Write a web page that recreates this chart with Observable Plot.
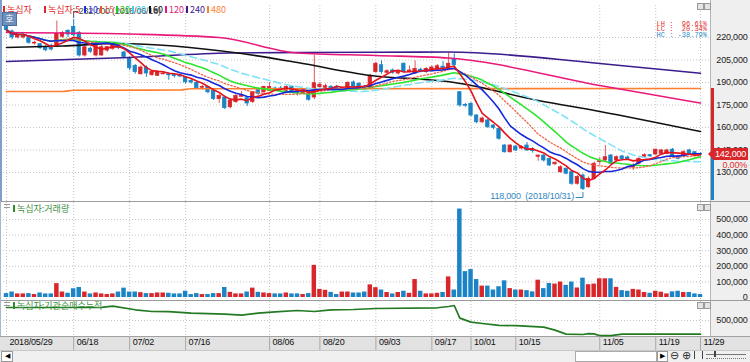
<!DOCTYPE html>
<html><head><meta charset="utf-8">
<script src="https://cdn.jsdelivr.net/npm/d3@7"></script>
<script src="https://cdn.jsdelivr.net/npm/@observablehq/plot@0.6"></script>
<style>
body{margin:0;background:#fff;}
#wrap{position:relative;width:750px;height:362px;overflow:hidden;background:#fff;}
#wrap svg{position:absolute;left:0;}
.o{position:absolute;white-space:pre;}
.num{font-family:"Liberation Sans",Arial,sans-serif;letter-spacing:-0.2px;}
.kr{font-family:"Noto Sans CJK KR","Noto Sans",sans-serif;}
</style></head><body><div id="wrap"></div>
<script>
// ---------------- data ----------------
const dates = ["05/29","05/30","05/31",
"06/01","06/04","06/05","06/07","06/08","06/11","06/12","06/14","06/15","06/18","06/19","06/20","06/21","06/22","06/25","06/26","06/27","06/28","06/29",
"07/02","07/03","07/04","07/05","07/06","07/09","07/10","07/11","07/12","07/13","07/16","07/17","07/18","07/19","07/20","07/23","07/24","07/25","07/26","07/27","07/30","07/31",
"08/01","08/02","08/03","08/06","08/07","08/08","08/09","08/10","08/13","08/14","08/16","08/17","08/20","08/21","08/22","08/23","08/24","08/27","08/28","08/29","08/30","08/31",
"09/03","09/04","09/05","09/06","09/07","09/10","09/11","09/12","09/13","09/14","09/17","09/18","09/19","09/20","09/21","09/27","09/28",
"10/01","10/02","10/04","10/05","10/08","10/10","10/11","10/12","10/15","10/16","10/17","10/18","10/19","10/22","10/23","10/24","10/25","10/26","10/29","10/30","10/31",
"11/01","11/02","11/05","11/06","11/07","11/08","11/09","11/12","11/13","11/14","11/15","11/16","11/19","11/20","11/21","11/22","11/23","11/26","11/27","11/28","11/29"];
// prices in thousands of won
const open = [227,224,220,220,219.5,216,215.5,213.5,214.5,214,
220.5,224.5,227,223,208,212.5,208,208,211.3,212.5,
215,210,206,201,195.5,200,195,194.5,195.5,195.5,
195,194.8,193.5,191,189.8,186.5,187,184.5,179,180,
173.5,177,180.5,179.5,177,185,183.5,184.5,186,186,
184.5,187,184,182.5,182.5,180,187,186.5,187,187,
185.5,186.2,190,189,187,186,197,201.5,196.5,198,
196,202.5,197,196,198.5,197,198,199,200.5,199,
205.5,183.5,175,175.8,168,163.5,164.7,161.3,159,148,
143.5,147.3,146,148,145.5,140.5,141.3,139,135.5,130.2,
132.5,130.2,122.5,128,120.2,125.8,137,138,141.3,138,
140.7,140,133.3,135.8,140.5,141.5,142,142.5,142.5,145.2,
140.7,141.3,144.7,143.5,142.5];
const high = [228,225,223,222.5,220,217.5,216,214.5,215.5,231,
224,225,232,224,214.5,213.5,215.5,215,214,216.5,
216,211,207,202,201,201,197.5,198,197,196.5,
195.5,195.5,194,192,190.5,188,187.5,185,182,181,
179,182,184,180,184,186,187.5,190,187,187.5,
188,188,185,185.5,183.5,208,190,189,188,188,
186.5,190.5,191,190,188,195.5,203.5,204.5,198.5,199,
198,203,201,204.5,199.5,200,201,202,204,210,
209,184,176,176.5,168.5,167,165.5,162,159.5,148.5,
148.5,148,148,150,146.5,141.5,142,139.5,137,134.5,
133,131,128,129,127,137,140,148,142,141,
141.5,141,136,140,142.5,142,145.5,145.5,145.5,146,
141.5,144.5,145.5,144,143];
const low = [223.5,218.5,219,219,215.5,215,212,210.5,211,213.5,
219.5,220,220.5,207,207,209.5,207,207.5,210,211.5,
212,206,198,195.5,195,193.5,194,194,195,191.5,
193,193.5,189,189,185.5,185,182.5,178,176,172,
172.5,176,180,174,176,181.5,182.5,184,184,184.5,
184,183.5,181,182,177.5,178.5,185,185.5,184.5,185,
184.5,185.5,186,186,184.5,185.5,196,195.5,195.5,195.5,
195,196.5,196.5,195.5,196.5,196,197,198,198,198,
200.5,173.5,173.5,167,162.5,162.5,159.5,158.5,151.5,143,
143,144,145,144,143,137.5,137,134,134.5,129.5,
128.5,121.5,121.5,118,119.5,125,135,137,135,137,
138,138,131.3,135,140,140,141.5,142,142,140,
138.5,141,142,141.5,141];
const close = [225,220,221.5,221.5,216.5,216.5,213,211.5,212,222.5,
223,222,221.5,208,213.5,210.5,214.5,213.5,213.5,215.8,
213,207,199.5,197,200,196,197,197,196,194.8,
194.3,194,190.2,190,186.2,187,183.5,179,181,173,
178,181,181.5,176,183.5,182.5,187,187,185,185.5,
187,184,183,184.5,178.5,189.5,188.5,187.5,186,186,
186.3,189.8,187,187,186.5,194.5,202.5,197,197.5,196.5,
197,197,198,199,197.5,199,200,200.8,199.5,202.5,
201.5,174.7,174.5,168,163.5,166,160.2,159.8,152.5,143.5,
148,144.7,147,144.7,144.3,141.3,138,134.7,136.5,133.5,
129.2,122.5,127,119,125.8,135.8,137.5,140.2,135.8,140.2,
139,139,134.7,139,141.5,140.8,145.2,144.7,144.7,140.7,
139.2,143.5,142.5,142,142];
// volume in thousands of shares
const volume = [25,35,23,23,25,19,29,23,23,89,
35,27,56,64,35,23,29,23,19,23,
35,60,35,35,31,25,25,29,29,27,
23,23,40,19,25,19,19,25,25,64,
33,23,23,35,60,33,29,25,23,23,
29,23,23,19,25,206,52,46,33,19,
35,35,29,29,35,81,63,48,32,23,
32,40,27,115,40,23,23,27,32,132,
48,567,166,179,115,73,73,48,69,107,
57,48,48,44,36,111,57,90,86,99,
78,99,61,124,82,86,120,120,120,65,
44,40,52,48,32,27,40,34,23,36,
40,32,32,23,19];
// long moving averages (day index, thousands of won)
const ma60Idx = [0,10,20,42,52,65,77,80,95,106,124];
const ma60Val = [213.3,214.3,216,209.3,203.3,194.7,191.3,190,178,170.7,157.3];
const ma120Idx = [0,22,38,52,66,79,106,124];
const ma120Val = [223.3,222.3,220,209.7,208,206.3,188,176.3];
const ma240Idx = [0,22,40,52,66,79,106,124];
const ma240Val = [204,206.7,209.7,210,210.2,210.3,202.7,196.2];
const ma480Idx = [0,10,12,31,33,124];
const ma480Val = [184,184,184.8,185,185.8,186];
// institutional net-buying cumulative (thousands of shares)
const instIdx = [0,17,19,23,26,29,33,39,42,45,48,52,55,58,62,66,77,79,80,81,83,85,88,91,96,98,100,103,104,105,106,108,110,124];
const instVal = [825,830,858,768,725,720,683,658,633,683,717,750,725,767,775,800,818,850,875,560,460,425,380,370,335,260,160,150,170,167,120,120,158,158];
// axis ticks
const priceTicks = [130000,145000,160000,175000,190000,205000,220000];
const volTicks = [0,100000,200000,300000,400000,500000];
const instTicks = [500000];
const dateTickIdx = [0,12,22,32,47,56,66,76,83,91,106,116,124];
const legendItems = [
  {label:"녹십자", color:"#e0262b", x:3},
  {label:"녹십자:5", color:"#e0262b", x:44},
  {label:"10", color:"#1a2fe0", x:84},
  {label:"15", color:"#f0553c", x:100},
  {label:"20", color:"#22cc22", x:116},
  {label:"30", color:"#3fd0f0", x:132},
  {label:"60", color:"#111111", x:149},
  {label:"120", color:"#e8197a", x:165},
  {label:"240", color:"#3d1c8e", x:186},
  {label:"480", color:"#ff7f30", x:207}
];

// ---------------- build ----------------
const K = 1000;
const rows = dates.map((d,i)=>({i, date:d, open:open[i]*K, high:high[i]*K, low:low[i]*K, close:close[i]*K, vol:volume[i]*K, up: close[i] >= open[i]}));
const upRows = rows.filter(d=>d.up), dnRows = rows.filter(d=>!d.up);
const mk = (idx,val,f=K) => idx.map((x,j)=>({x, v: val[j]*f}));
const fmt = d3.format(",");
const RED = "#d8262b", BLUE = "#1b84c6", REDW = "#e0585c", GRID = "#c4c4c4";
const NUM = '"Liberation Sans",Arial,sans-serif';
const FS = 9;
const W = 750;
const xScale = {type:"linear", domain:[0,124], range:[6,700], axis:null};
const mainYdom = [130000,220000], mainYrng = [172,37];
const yPix = d3.scaleLinear(mainYrng, mainYdom); // pixel -> value, same mapping as Plot y
const hi = d3.greatest(rows, d=>d.high), lo = d3.least(rows, d=>d.low);
const last = rows[rows.length-1], prev = rows[rows.length-2];
const grid = {stroke: GRID, strokeDasharray: "1,2"};
const svgStyle = {background: "transparent", fontFamily: NUM, fontSize: FS + "px", letterSpacing: "-0.2px", overflow: "visible"};
const shortMA = (k, stroke, extra={}) => Plot.lineY(rows, Plot.windowY({k, anchor:"end", reduce:"mean", strict:false}, {x:"i", y:"close", stroke, strokeWidth:1.6, ...extra}));
const longMA = (idx, val, stroke) => Plot.line(mk(idx,val), {x:"x", y:"v", stroke, strokeWidth:1.6, curve:"monotone-x"});

const main = Plot.plot({
  width: W, height: 201, marginLeft: 3, marginRight: 40, marginTop: 5, marginBottom: 0,
  x: xScale, y: {domain: mainYdom, range: mainYrng, axis: null},
  style: svgStyle,
  marks: [
    Plot.ruleX(dateTickIdx, {x: d=>d, ...grid}),
    Plot.ruleY(priceTicks, {y: d=>d, ...grid}),
    Plot.ruleX(upRows, {x:"i", y1:"low", y2:"high", stroke: REDW, strokeWidth: 1}),
    Plot.ruleX(dnRows, {x:"i", y1:"low", y2:"high", stroke: BLUE, strokeWidth: 1}),
    Plot.rect(upRows, {x1: d=>d.i-0.3, x2: d=>d.i+0.3, y1:"open", y2:"close", fill: RED, stroke: RED, strokeWidth: 0.8}),
    Plot.rect(dnRows, {x1: d=>d.i-0.3, x2: d=>d.i+0.3, y1:"open", y2:"close", fill: BLUE, stroke: BLUE, strokeWidth: 0.8}),
    longMA(ma480Idx, ma480Val, "#ff7f30"),
    longMA(ma240Idx, ma240Val, "#3d1c8e"),
    longMA(ma120Idx, ma120Val, "#e8197a"),
    longMA(ma60Idx, ma60Val, "#111111"),
    shortMA(30, "#7fe2f7", {strokeDasharray: "7,4"}),
    shortMA(20, "#2ee52e"),
    shortMA(15, "#f0654a", {strokeDasharray: "1.5,2", strokeWidth: 1.3}),
    shortMA(10, "#1428dc"),
    shortMA(5, "#e4131b"),
    Plot.line([{x: hi.i, v: yPix(17)}, {x: hi.i, v: yPix(11)}, {x: hi.i + 4/5.6, v: yPix(11)}], {x:"x", y:"v", stroke:"#555", strokeWidth: 1}),
    Plot.text([hi], {x:"i", y:"high", text: d=>`${fmt(d.high)} (2018/${d.date})`, textAnchor:"start", dx: 5, dy: -8, fill:"#4a4a4a", fontSize: FS, fontFamily: NUM}),
    Plot.line([{x: lo.i - 7/5.6, v: yPix(197)}, {x: lo.i, v: yPix(197)}, {x: lo.i, v: yPix(192)}], {x:"x", y:"v", stroke:"#2f87c0", strokeWidth: 1}),
    Plot.text([lo], {x:"i", y:"low", text: d=>`${fmt(d.low)}  (2018/${d.date})`, textAnchor:"end", dx: -9, dy: 6, fill:"#2f87c0", fontSize: FS, fontFamily: NUM}),
    Plot.text(priceTicks, {y: d=>d, frameAnchor:"right", dx: 37, textAnchor:"end", text: d=>fmt(d), fill:"#222", fontSize: FS, fontFamily: NUM})
  ]
});

const volPlot = Plot.plot({
  width: W, height: 99, marginLeft: 3, marginRight: 40, marginTop: 0, marginBottom: 0,
  x: xScale, y: {domain: [0,500000], range: [95,17], axis: null},
  style: svgStyle,
  marks: [
    Plot.ruleX(dateTickIdx, {x: d=>d, ...grid}),
    Plot.ruleY(volTicks.filter(v=>v>0), {y: d=>d, ...grid}),
    Plot.rectY(upRows, {x1: d=>d.i-0.4, x2: d=>d.i+0.4, y:"vol", fill: RED}),
    Plot.rectY(dnRows, {x1: d=>d.i-0.4, x2: d=>d.i+0.4, y:"vol", fill: BLUE}),
    Plot.text(volTicks, {y: d=>d, frameAnchor:"right", dx: 37, textAnchor:"end", text: d=>fmt(d), fill:"#222", fontSize: FS, fontFamily: NUM})
  ]
});

const instPlot = Plot.plot({
  width: W, height: 49, marginLeft: 3, marginRight: 40, marginTop: 0, marginBottom: 14,
  x: xScale, y: {domain: [100000, 975000], range: [35, 0], axis: null},
  style: svgStyle,
  marks: [
    Plot.ruleX(dateTickIdx, {x: d=>d, ...grid}),
    Plot.ruleY(instTicks, {y: d=>d, ...grid}),
    Plot.line(mk(instIdx, instVal), {x:"x", y:"v", stroke:"#237a23", strokeWidth: 1.7}),
    Plot.text(instTicks, {y: d=>d, frameAnchor:"right", dx: 37, textAnchor:"end", text: d=>fmt(d), fill:"#222", fontSize: FS, fontFamily: NUM}),
    Plot.ruleX(dateTickIdx.slice(1), {x: d=>d, insetTop: 35, insetBottom: -14, stroke: "#a8a8a8"}),
    Plot.text(dateTickIdx, {x: d=>d, frameAnchor:"bottom", dy: 8, dx: 3, textAnchor:"start", text: i => i === 0 ? "2018/" + dates[i] : dates[i], fill:"#111", fontSize: FS, fontFamily: NUM})
  ]
});

// ---------------- layout ----------------
const wrap = document.getElementById("wrap");
function box(css, html="", cls="o"){ const e=document.createElement("div"); e.className=cls; e.style.cssText=css; e.innerHTML=html; wrap.appendChild(e); return e; }
// backgrounds
box("left:710px;top:0;width:40px;height:336px;background:#efefef;border-left:1px solid #b4b4b4;");
box("left:0;top:336px;width:750px;height:14px;background:#e2e2e2;border-top:1px solid #a0a0a0;");
box("left:0;top:350px;width:750px;height:12px;background:#f0f0f0;border-top:1px solid #c8c8c8;");
box("left:0;top:201px;width:750px;height:0;border-top:1px solid #9c9c9c;");
box("left:0;top:300px;width:750px;height:0;border-top:1px solid #9c9c9c;");
box("left:0;top:0;width:2px;height:201px;background:#7c9fcc;");
box("left:0;top:201px;width:1px;height:135px;background:#a8b8cc;");
// plots
main.style.top = "0px"; wrap.appendChild(main);
volPlot.style.top = "202px"; wrap.appendChild(volPlot);
instPlot.style.top = "301px"; wrap.appendChild(instPlot);

// legend of main panel
for (const it of legendItems) {
  box(`left:${it.x}px;top:6px;width:2px;height:7px;background:${it.color};`);
  box(`left:${it.x+4}px;top:3px;line-height:13px;font-size:9px;color:${it.color};`, it.label, "o kr");
}
// 호 button
box("left:2px;top:12px;width:13px;height:12px;background:#6f8fbd;border:1px solid #4f6f9d;color:#fff;font-size:9px;line-height:12px;text-align:center;", "호", "o kr");
// LH / LC / HC
const pct = v => (v*100).toFixed(2) + "%";
const stats = [["LH", hi.high/lo.low-1, "#e03030"], ["LC", last.close/lo.low-1, "#e03030"], ["HC", last.close/hi.high-1, "#2a8ac8"]];
stats.forEach(([k,v,c],j)=>{
  const s = pct(v); const txt = k + " : " + " ".repeat(Math.max(0, 7 - s.length)) + s;
  box(`right:43px;top:${21.7+j*5.6}px;height:5.6px;line-height:5.6px;font-size:7px;color:${c};font-family:'Liberation Mono',monospace;`, txt);
});
// panel icons (top-right small boxes) and left panel handles
for (const t of [3, 204, 302]) {
  box(`left:697px;top:${t}px;width:5px;height:5px;background:#e4e4e4;border:1px solid #9a9a9a;`);
  box(`left:704px;top:${t}px;width:5px;height:5px;background:#e4e4e4;border:1px solid #9a9a9a;`);
}
for (const t of [204, 302]) box(`left:4px;top:${t}px;width:6px;height:2px;border-top:1px solid #999;border-bottom:1px solid #999;`);
// lower panel legends
box("left:13px;top:205px;width:2px;height:7px;background:#2f8f2f;");
box("left:17px;top:202px;line-height:13px;font-size:9px;color:#3c8f3c;", "녹십자:거래량", "o kr");
box("left:13px;top:302px;width:2px;height:7px;background:#2f8f2f;");
box("left:17px;top:299px;line-height:13px;font-size:9px;color:#3c8f3c;", "녹십자:기관순매수누적", "o kr");

// current price tag & range bar on the price axis
const ys = main.scale("y");
const yAt = v => (ys && ys.apply) ? ys.apply(v) : d3.scaleLinear(mainYdom, mainYrng)(v);
const yTag = yAt(last.close), yTop = yAt(ma480Val[ma480Val.length-1]*K);
box(`left:711px;top:${yTop}px;width:3px;height:${yTag-yTop}px;background:${RED};`);
box(`left:711px;top:${yTag}px;width:3px;height:${200-yTag}px;background:${BLUE};`);
box(`left:708px;top:${yTag-6}px;width:0;height:0;border-top:6px solid transparent;border-bottom:6px solid transparent;border-right:6px solid ${RED};`);
box(`left:713px;top:${yTag-6}px;width:35px;height:12px;background:${RED};color:#fff;font-size:9px;line-height:12px;text-align:center;`, fmt(last.close), "o num");
box(`right:3px;top:${yTag+5}px;font-size:9px;line-height:12px;color:#e03030;`, ((last.close/prev.close-1)*100).toFixed(2)+"%", "o num");

// bottom scroll bar controls
box("left:1px;top:351px;width:10px;height:9px;background:#fff;border:1px solid #999;font-size:7px;line-height:9px;text-align:center;color:#000;", "◀");
box("left:575px;top:351px;width:80px;height:9px;background:#fff;border:1px solid #aaa;");
box("left:657px;top:351px;width:9px;height:9px;background:#fff;border:1px solid #999;font-size:7px;line-height:9px;text-align:center;color:#000;", "▶");
box("left:670px;top:349px;font-size:11px;line-height:12px;color:#333;", "⊖");
box("left:682px;top:349px;font-size:11px;line-height:12px;color:#333;", "⊕");
box("left:694px;top:351px;width:7px;height:8px;border-left:1px solid #444;border-right:1px solid #444;");
box("left:706px;top:354px;width:40px;height:0;border-top:1px solid #777;");
box("left:714px;top:351px;width:2px;height:6px;background:#444;");
box("left:706px;top:358px;width:40px;height:2px;border-top:1px dotted #777;");
</script></body></html>
